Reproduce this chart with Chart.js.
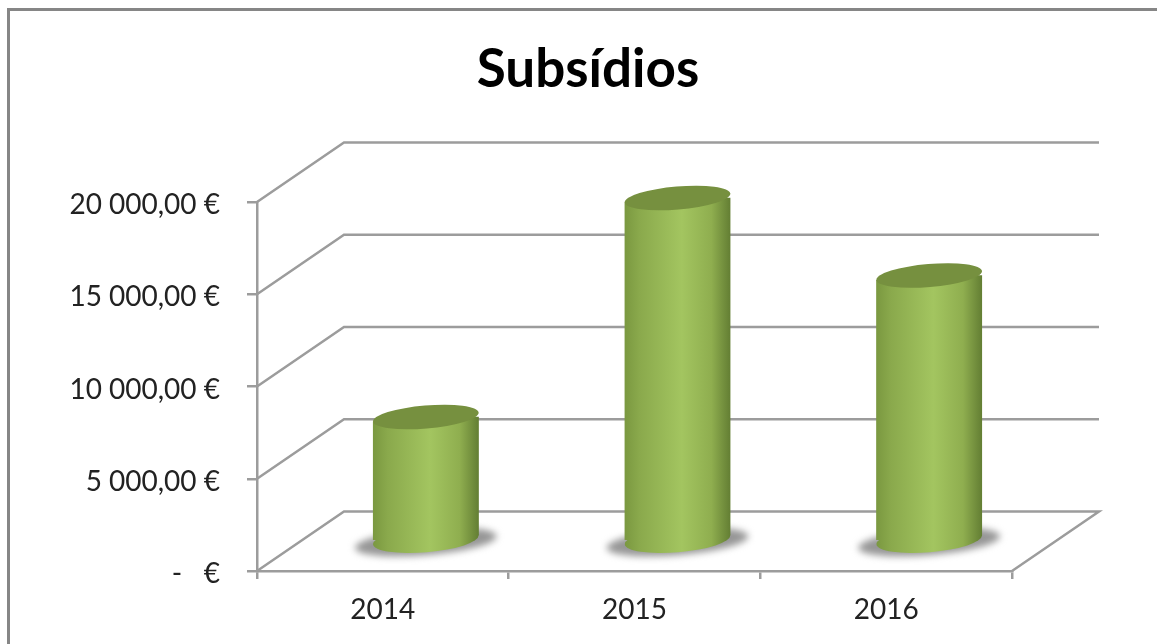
<!DOCTYPE html>
<html>
<head>
<meta charset="utf-8">
<title>Subsídios</title>
<script src="https://cdn.jsdelivr.net/npm/chart.js@4/dist/chart.umd.min.js"></script>
<style>
  html, body { margin: 0; padding: 0; background: #fff; overflow: hidden; }
  #wrap { position: relative; width: 1157px; height: 644px; filter: blur(0.45px); }
  #frame { position: absolute; left: 7px; top: 8px; width: 1150px; height: 636px; box-sizing: border-box;
           border-left: 3px solid #868686; border-top: 3px solid #868686; }
  canvas { position: absolute; left: 0; top: 0; }
</style>
</head>
<body>
<div id="wrap">
  <div id="frame"></div>
  <canvas id="chart" width="1157" height="644"></canvas>
</div>
<script>
const categories = ["2014", "2015", "2016"];
const subsidios  = [6720, 18590, 14390];
const yTicks     = ["-   €", "5 000,00 €", "10 000,00 €", "15 000,00 €", "20 000,00 €"];

const LINE = "#9c9c9c";
const DEPTH_X = 87;
const DEPTH_Y = -59.5;
// bars stand in the middle of the floor
const SHIFT_X = 43;
const SHIFT_Y = -30;
const BAR_W = 106;
const TILT = 4.5; // how far the ellipse ends rise/fall from the centre

function cylinderFill(c, cx) {
  const g = c.createLinearGradient(cx - BAR_W / 2, 0, cx + BAR_W / 2, 0);
  g.addColorStop(0, "#7a9840");
  g.addColorStop(0.14, "#8aa94c");
  g.addColorStop(0.54, "#a3c560");
  g.addColorStop(0.82, "#8fae4f");
  g.addColorStop(0.95, "#6f8b3b");
  g.addColorStop(1, "#637e33");
  return g;
}

function tiltedEllipse(c, cx, cy, rx, ry) {
  c.beginPath();
  c.ellipse(cx, cy, rx, ry, -Math.atan2(TILT, BAR_W / 2), 0, Math.PI * 2);
}

const cylinders = {
  id: "cylinders",
  afterLayout(chart) {
    // title sits right of the canvas centre
    chart.titleBlock.left += 164;
  },
  beforeDatasetsDraw(chart) {
    const { ctx: c, scales: { x, y } } = chart;
    const x0 = x.left, x1 = x.right;
    c.save();

    // walls and floor
    c.strokeStyle = LINE;
    c.lineWidth = 2.5;
    y.ticks.forEach(t => {
      const py = y.getPixelForValue(t.value);
      c.beginPath();
      c.moveTo(x0, py);
      c.lineTo(x0 + DEPTH_X, py + DEPTH_Y);
      c.lineTo(x1 + DEPTH_X, py + DEPTH_Y);
      if (t.value === 0) c.lineTo(x1, py);
      c.stroke();
    });

    // shadows on the floor
    const floorY = y.getPixelForValue(0) + SHIFT_Y;
    c.save();
    c.filter = "blur(3.5px)";
    c.fillStyle = "#969696";
    categories.forEach((_, i) => {
      const cx = x.getPixelForValue(i) + SHIFT_X;
      tiltedEllipse(c, cx, floorY + 1, 71, 13);
      c.fill();
    });
    c.restore();

    c.translate(SHIFT_X, SHIFT_Y);
    // cut the bar ends so they follow the tilt of the ellipses
    c.beginPath();
    chart.getDatasetMeta(0).data.forEach(b => {
      const l = b.x - BAR_W / 2, r = b.x + BAR_W / 2;
      c.moveTo(l, b.y + TILT);
      c.lineTo(r, b.y - TILT);
      c.lineTo(r, b.base - TILT);
      c.lineTo(l, b.base + TILT);
      c.closePath();
    });
    c.clip();
  },
  afterDatasetsDraw(chart) {
    const c = chart.ctx;
    c.restore();
    c.save();
    c.translate(SHIFT_X, SHIFT_Y);
    chart.getDatasetMeta(0).data.forEach(b => {
      // round bottom
      c.save();
      c.beginPath();
      c.rect(b.x - BAR_W / 2, b.base - TILT - 1, BAR_W, 30);
      c.clip();
      c.fillStyle = cylinderFill(c, b.x);
      tiltedEllipse(c, b.x, b.base, BAR_W / 2, 12.5);
      c.fill();
      c.restore();
      // top cap
      c.fillStyle = "#76903f";
      tiltedEllipse(c, b.x, b.y, BAR_W / 2, 11.5);
      c.fill();
    });
    c.restore();
  }
};

new Chart(document.getElementById("chart"), {
  type: "bar",
  data: {
    labels: categories,
    datasets: [{
      label: "Subsídios",
      data: subsidios,
      barThickness: BAR_W,
      clip: false,
      backgroundColor: ctx => {
        // chartArea is not there yet on the first pass
        if (!ctx.chart.chartArea) return "#8aa94c";
        return cylinderFill(ctx.chart.ctx, ctx.chart.scales.x.getPixelForValue(ctx.dataIndex));
      },
    }],
  },
  options: {
    responsive: false,
    animation: false,
    layout: { padding: { right: 145 } },
    plugins: {
      legend: { display: false },
      tooltip: { enabled: false },
      title: {
        display: true,
        text: "Subsídios",
        color: "#000",
        font: { family: "Lato", size: 53, weight: "bold", lineHeight: 1.2 },
        padding: { top: 38, bottom: 100.4 },
      },
    },
    scales: {
      x: {
        afterFit: s => { s.height = 73; },
        border: { color: LINE, width: 2.5 },
        grid: { drawOnChartArea: false, color: LINE, lineWidth: 2.5, tickLength: 8 },
        ticks: { color: "#222", font: { family: "Lato", size: 28 }, padding: 14, maxRotation: 0 },
      },
      y: {
        min: 0,
        max: 20000,
        afterFit: s => { s.width = 257; },
        border: { color: LINE, width: 2.5 },
        grid: { drawOnChartArea: false, color: LINE, lineWidth: 2.5, tickLength: 10 },
        ticks: {
          stepSize: 5000,
          color: "#222",
          font: { family: "Lato", size: 28 },
          padding: 27,
          labelOffset: 3,
          callback: (v, i) => yTicks[i],
        },
      },
    },
  },
  plugins: [cylinders],
});
</script>
</body>
</html>
